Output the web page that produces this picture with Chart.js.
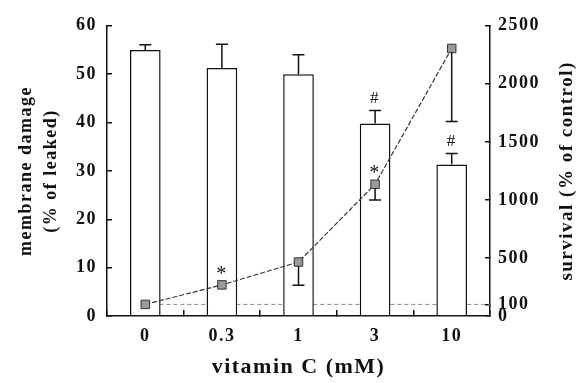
<!DOCTYPE html>
<html>
<head>
<meta charset="utf-8">
<script src="https://cdn.jsdelivr.net/npm/chart.js@4.4.1/dist/chart.umd.min.js"></script>
<style>
  html, body { margin: 0; padding: 0; background: #fff; }
  #wrap { width: 583px; height: 383px; }
</style>
</head>
<body>
<div id="wrap"><canvas id="myChart"></canvas></div>
<script>
const doses = ['0', '0.3', '1', '3', '10'];
const damage = [55, 51.3, 50, 39.8, 31.3];
const damageErr = [1.1, 4.9, 4, 2.7, 2.3];
const survival = [100, 268, 465, 1135, 2305];
const survivalErr = [0, 0, 200, 135, 630];
const survivalTicks = [0, 100, 500, 1000, 1500, 2000, 2500];
const controlLevel = 100;
const damageMarks = ['', '', '', '#', '#'];
const survivalMarks = ['', '*', '', '*', ''];

const serif = '"Liberation Serif", "Times New Roman", serif';
const ink = '#111';

// error bars, significance marks, control line, right axis title
const extras = {
    id: 'extras',
    beforeDraw(chart) {
        chart.ctx.letterSpacing = '1.5px';
    },
    beforeDatasetsDraw(chart) {
        const ctx = chart.ctx;
        const x = chart.scales.x;
        const yy = chart.scales.y1.getPixelForValue(controlLevel);
        ctx.save();
        ctx.strokeStyle = '#888';
        ctx.lineWidth = 1;
        ctx.setLineDash([4, 3]);
        ctx.beginPath();
        ctx.moveTo(x.getPixelForValue(0), yy);
        ctx.lineTo(chart.chartArea.right, yy);
        ctx.stroke();
        ctx.restore();
    },
    afterDatasetsDraw(chart) {
        const ctx = chart.ctx;
        const x = chart.scales.x, y = chart.scales.y, y1 = chart.scales.y1;
        const cap = 6;
        ctx.save();
        ctx.strokeStyle = ink;
        ctx.fillStyle = ink;
        ctx.lineWidth = 1.5;
        ctx.setLineDash([]);
        ctx.textAlign = 'center';
        ctx.textBaseline = 'middle';
        doses.forEach(function (d, i) {
            const px = x.getPixelForValue(i);
            // bar error (upper only)
            const top = y.getPixelForValue(damage[i]);
            const hi = y.getPixelForValue(damage[i] + damageErr[i]);
            ctx.beginPath();
            ctx.moveTo(px, top);
            ctx.lineTo(px, hi);
            ctx.moveTo(px - cap, hi);
            ctx.lineTo(px + cap, hi);
            ctx.stroke();
            ctx.font = '17px ' + serif;
            if (damageMarks[i]) ctx.fillText(damageMarks[i], px, hi - 12);
            // survival error (lower only)
            const py = y1.getPixelForValue(survival[i]);
            if (survivalErr[i]) {
                const lo = y1.getPixelForValue(survival[i] - survivalErr[i]);
                ctx.beginPath();
                ctx.moveTo(px, py + 4);
                ctx.lineTo(px, lo);
                ctx.moveTo(px - cap, lo);
                ctx.lineTo(px + cap, lo);
                ctx.stroke();
            }
            ctx.font = '20px ' + serif;
            if (survivalMarks[i]) ctx.fillText(survivalMarks[i], px, py - 10);
        });
        ctx.restore();
    },
    afterDraw(chart) {
        const ctx = chart.ctx;
        const area = chart.chartArea;
        ctx.save();
        ctx.fillStyle = ink;
        ctx.font = 'bold 19px ' + serif;
        ctx.textAlign = 'center';
        ctx.textBaseline = 'middle';
        ctx.translate(chart.scales.y1.right - 16, (area.top + area.bottom) / 2);
        ctx.rotate(-Math.PI / 2);
        ctx.fillText('survival (% of control)', 0, 0);
        ctx.restore();
    }
};

let ctx = document.getElementById('myChart');
new Chart(ctx, {
    type: 'bar',
    data: {
        labels: doses,
        datasets: [{
            type: 'line',
            label: 'survival',
            data: survival,
            yAxisID: 'y1',
            order: 0,
            borderColor: '#333',
            borderWidth: 1.2,
            borderDash: [5, 2],
            pointStyle: 'rect',
            pointRadius: 6,
            pointBackgroundColor: '#9a9a9a',
            pointBorderColor: '#333',
            pointBorderWidth: 1,
            tension: 0
        },
        {
            label: 'membrane damage',
            data: damage,
            yAxisID: 'y',
            order: 1,
            backgroundColor: '#fff',
            borderColor: ink,
            borderWidth: 1.5,
            barPercentage: 0.5,
            categoryPercentage: 0.8
        }]
    },
    options: {
        responsive: true,
        maintainAspectRatio: false,
        animation: false,
        devicePixelRatio: 1,
        layout: { padding: { top: 24, left: 0, right: 0, bottom: 0 } },
        plugins: {
            legend: { display: false },
            tooltip: { enabled: false }
        },
        scales: {
            x: {
                grid: { drawOnChartArea: false, tickLength: -6, color: ink, lineWidth: 1.5 },
                border: { display: true, color: ink, width: 1.5 },
                ticks: { color: ink, padding: 16, font: { family: serif, size: 18, weight: 'bold' } },
                title: {
                    display: true, text: 'vitamin C (mM)', color: ink,
                    font: { family: serif, size: 22, weight: 'bold' },
                    padding: { top: 0, bottom: 2 }
                },
                afterFit: function (scale) { scale.height = 67; }
            },
            y: {
                position: 'left',
                min: 0, max: 60,
                grid: { drawOnChartArea: false, tickLength: -5, color: ink, lineWidth: 1.5 },
                border: { display: true, color: ink, width: 1.5 },
                ticks: { stepSize: 10, color: ink, padding: 15, font: { family: serif, size: 18, weight: 'bold' } },
                title: {
                    display: true, text: ['membrane damage', '(% of leaked)'], color: ink,
                    font: { family: serif, size: 18, weight: 'bold', lineHeight: 1.4 },
                    padding: { top: 14, bottom: 0 }
                },
                afterFit: function (scale) { scale.width = 107; }
            },
            y1: {
                position: 'right',
                min: 0, max: 2500,
                grid: { drawOnChartArea: false, tickLength: -5, color: ink, lineWidth: 1.5 },
                border: { display: true, color: ink, width: 1.5 },
                ticks: {
                    autoSkip: false, color: ink, padding: 13,
                    font: { family: serif, size: 18, weight: 'bold' },
                    callback: function (value) { return String(value); }
                },
                afterBuildTicks: function (scale) {
                    scale.ticks = survivalTicks.map(v => ({ value: v }));
                },
                afterFit: function (scale) { scale.width = 93; }
            }
        }
    },
    plugins: [extras]
});
</script>
</body>
</html>
